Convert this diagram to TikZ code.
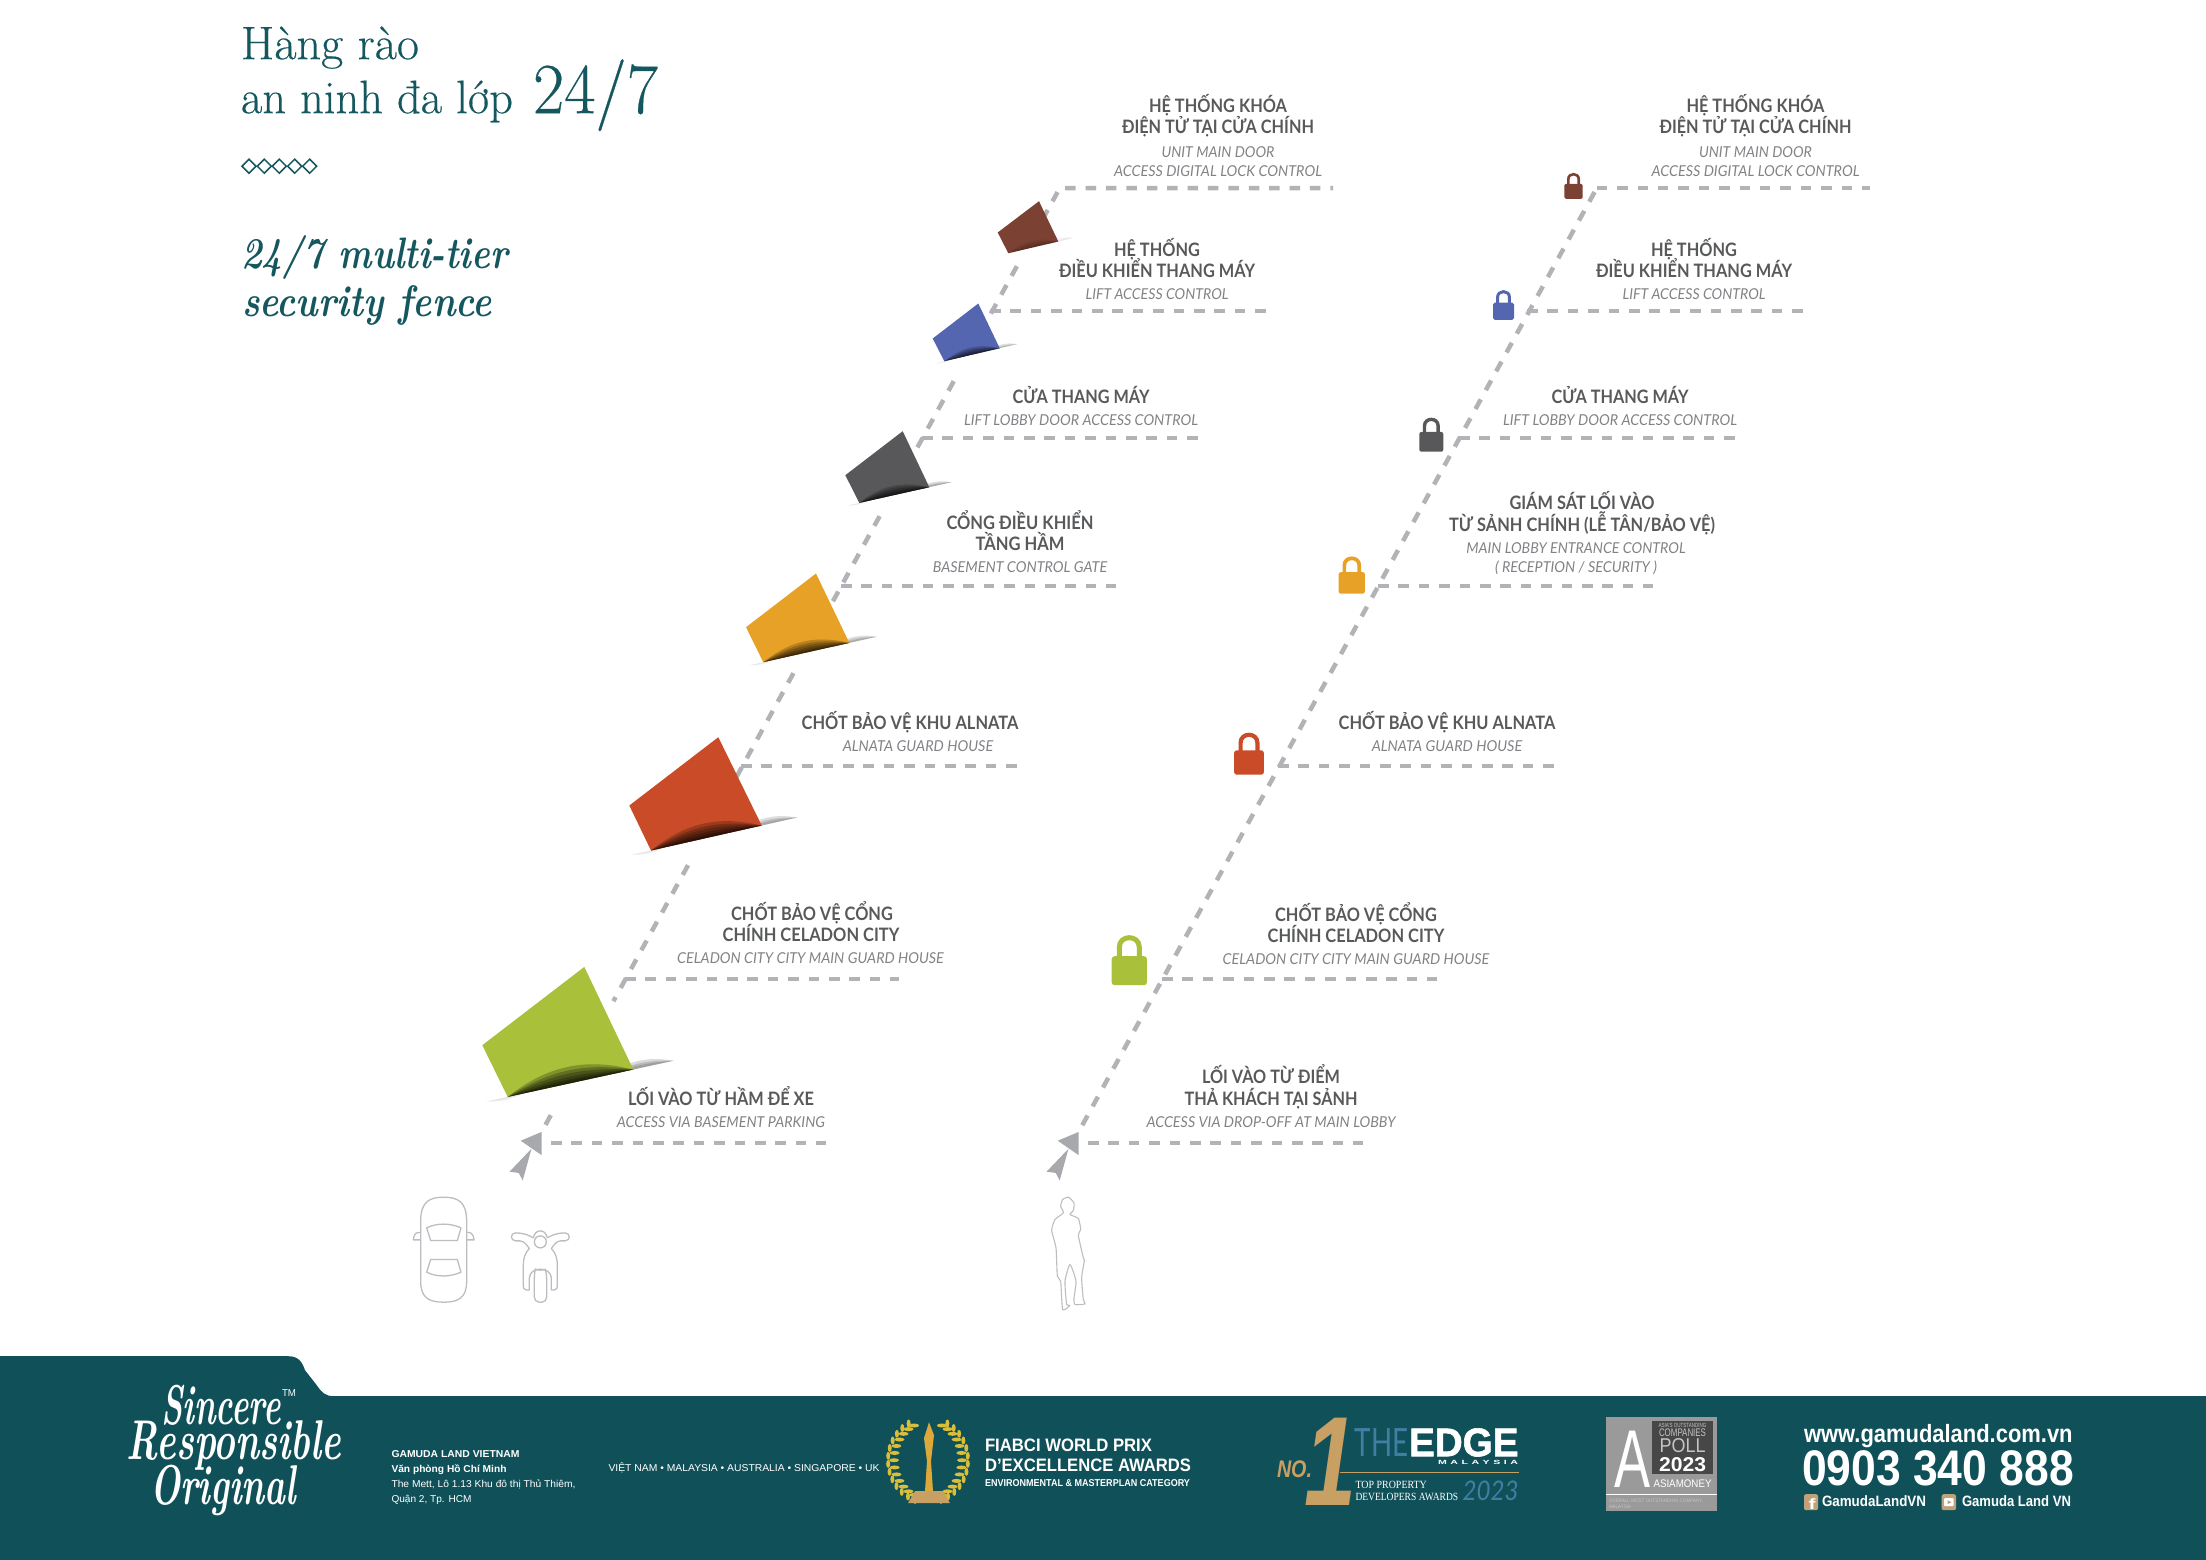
\documentclass[tikz,border=0pt]{standalone}
\usepackage{fontspec}
\usepackage{graphicx}
\usetikzlibrary{calc,shapes.geometric}
\newfontfamily\lato{Lato}
\newfontfamily\libs{Liberation Sans}
\newfontfamily\libr{Liberation Serif}
\newfontfamily\libh[UprightFont=* Bold,FakeBold=1.5]{Liberation Sans}
\newfontfamily\ttl[FakeBold=0.35]{Latin Modern Roman}
\definecolor{teal}{HTML}{105159}
\definecolor{titleteal}{HTML}{15575E}
\definecolor{labgray}{HTML}{58595B}
\definecolor{subgray}{HTML}{808285}
\definecolor{dashgray}{HTML}{B1B3B6}
\definecolor{arrowgray}{HTML}{A7A9AC}
\definecolor{icongray}{HTML}{BCBDC0}
\definecolor{cbrown}{HTML}{7B4132}
\definecolor{cblue}{HTML}{5566B0}
\definecolor{cdark}{HTML}{58585A}
\definecolor{corange}{HTML}{E6A126}
\definecolor{cred}{HTML}{C94B27}
\definecolor{cgreen}{HTML}{A8C03A}
\definecolor{gold}{HTML}{C9A063}
\definecolor{leaf}{HTML}{D8BE3A}
\definecolor{trophy}{HTML}{DDA83A}
\definecolor{edgeblue}{HTML}{3F7FA3}
\definecolor{amgray}{HTML}{9A9A9A}
\definecolor{amdark}{HTML}{474747}
\definecolor{amlight}{HTML}{C4C4C4}
\definecolor{tan}{HTML}{BFA27A}
\tikzset{
  base text/.style={anchor=base,inner sep=0pt,outer sep=0pt},
  headlab/.style={base text,text=labgray,font=\lato\bfseries\fontsize{18.5}{20}\selectfont},
  sublab/.style={base text,text=subgray,font=\lato\itshape\fontsize{15}{17}\selectfont},
  titlefont/.style={base text,anchor=base west,text=titleteal,font=\ttl\fontsize{47}{50}\selectfont},
  titlebig/.style={base text,anchor=base west,text=titleteal,font=\ttl\fontsize{72}{75}\selectfont},
  titleit/.style={base text,anchor=base west,text=titleteal,font=\bfseries\itshape\fontsize{44}{48}\selectfont},
  foot/.style={base text,anchor=base west,text=white,font=\libs\fontsize{10}{12}\selectfont},
  footb/.style={base text,anchor=base west,text=white,font=\libs\bfseries\fontsize{10}{12}\selectfont},
  scripty/.style={base text,text=white,font=\bfseries\itshape\fontsize{56}{60}\selectfont},
  dashline/.style={draw=dashgray,line width=4.5pt,dash pattern=on 10.5pt off 9.9pt},
  diagline/.style={draw=dashgray,line width=4.5pt,dash pattern=on 11pt off 10.5pt},
  icon/.style={draw=icongray,line width=1.3pt,line join=round},
}
\newcommand\fw[2]{\resizebox{#1pt}{\height}{#2}}
% name, style, x, y, width, text
\newcommand\lab[6]{\node[#2] (#1) at (#3,#4) {\fw{#5}{#6}};}
% named point on the diagonal: name, x offset, y
\newcommand\dc[3]{\coordinate (#1) at ({542+#2+(1130-#3)*0.549},#3);}
% name, colour, A, B, C, D, shadow opacity
\newcommand\fencequad[7]{%
  \coordinate (#1tl) at ($(#6)!1.17!(#5)$);
  \coordinate (#1tr) at ($(#5)!1.32!(#6)$);
  \coordinate (#1il) at ($(#5)!0.12!(#6)$);
  \coordinate (#1ir) at ($(#5)!0.8!(#6)$);
  \pgfmathsetmacro\tailop{#7*0.6}
  \pgfmathsetmacro\leftop{#7*0.25}
  \foreach \ang in {22,14,8}{\fill[black,opacity=\tailop] (#1ir) to[bend left=\ang] (#1tr) -- cycle;}
  \foreach \ang in {14,7}{\fill[black,opacity=\leftop] (#1tl) to[bend right=\ang] (#1il) -- cycle;}
  \fill[#2] (#3)--(#4)--(#5)--(#6)--cycle;
  \begin{scope}
    \clip (#3)--(#4)--(#5)--(#6)--cycle;
    \foreach \ang in {26,20,15,10,6,3}{\fill[black,opacity=#7] (#5) to[bend left=\ang] (#6) -- cycle;}
  \end{scope}
}
% colour, cx, bottom y, scale
\newcommand\lockicon[4]{%
  \begin{scope}[shift={(#2,#3)},scale=#4]
    \draw[#1,line width=#4*5pt] (-10,-27) -- (-10,-38) .. controls (-10,-50.7) and (10,-50.7) .. (10,-38) -- (10,-27);
    \fill[#1,rounded corners=#4*3pt] (-17.65,-29) rectangle (17.65,0);
  \end{scope}}
% x offset
\newcommand\arrowpair[1]{%
  \begin{scope}[shift={(#1,0)}]
    \fill[arrowgray] (541.7,1130.7) -- (520.7,1139.5) -- (541.7,1154) -- cycle;
    \fill[arrowgray] (531.5,1147.5) -- (509.5,1170.5) -- (518.7,1171.7) -- (522.7,1179.3) -- cycle;
  \end{scope}}
\begin{document}
\begin{tikzpicture}[x=1pt,y=-1pt]
\useasboundingbox (0,0) rectangle (2206,1560);
\begin{scope}[yshift=-1.2pt]
% title
\lab{t1}{titlefont}{241}{58}{178}{Hàng rào}
\lab{t2}{titlefont}{241}{112}{272}{an ninh đa lớp}
\lab{t3}{titlebig}{533}{112}{125}{24/7}
\foreach \cx in {249,264.3,279.3,294.7,309.7}{\draw[titleteal,line width=1.5pt] (\cx-7,165) -- (\cx,158) -- (\cx+7,165) -- (\cx,172) -- cycle;}
\lab{t4}{titleit}{241}{267}{267}{24/7 multi-tier}
\lab{t5}{titleit}{242}{315}{250}{security fence}
% left diagonal pieces
\dc{la1}{0}{1124}\dc{la0}{0}{1114}
\dc{lb1}{0}{1000}\dc{lb0}{0}{864}
\dc{lc1}{0}{790}\dc{lc0}{0}{672}
\dc{ld1}{0}{605}\dc{ld0}{0}{515}
\dc{le1}{0}{458}\dc{le0}{0}{380}
\dc{lf1}{0}{324}\dc{lf0}{0}{265}
\dc{lg1}{0}{218}\dc{lg0}{0}{187}
\draw[diagline] (la0) -- (la1);
\draw[diagline] (lb0) -- (lb1);
\draw[diagline] (lc0) -- (lc1);
\draw[diagline] (ld0) -- (ld1);
\draw[diagline] (le0) -- (le1);
\draw[diagline] (lf0) -- (lf1);
% branches of the left line
\coordinate (lh1e) at (1333,187);
\coordinate (lh2s) at (990,310);\coordinate (lh2e) at (1267,310);
\coordinate (lh3s) at (922,437);\coordinate (lh3e) at (1198,437);
\coordinate (lh4s) at (841,585);\coordinate (lh4e) at (1116,585);
\coordinate (lh5s) at (741,765);\coordinate (lh5e) at (1017,765);
\coordinate (lh6s) at (625,978);\coordinate (lh6e) at (899,978);
\coordinate (lh7s) at (551,1142);\coordinate (lh7e) at (826,1142);
\draw[dashline] (lg1) -- (lg0) -- (lh1e);
\foreach \n in {2,...,7}{\draw[dashline] (lh\n s) -- (lh\n e);}
% fence blocks
\fencequad{qa}{cbrown}{1039,200}{997.7,231.3}{1008.3,252}{1058.3,240.3}{0.05}
\fencequad{qb}{cblue}{978.3,302.3}{932.7,337.3}{944.3,360}{999.7,347}{0.17}
\fencequad{qc}{cdark}{902.7,430}{845.3,474}{859.3,501.7}{929.3,486}{0.2}
\fencequad{qd}{corange}{816,572.3}{746,626}{763.3,661}{849.3,641.7}{0.2}
\fencequad{qe}{cred}{718.3,736}{629.3,804.3}{651,849.3}{761.7,824.3}{0.22}
\fencequad{qf}{cgreen}{584.3,965.7}{482.3,1044}{507.7,1095.7}{633.3,1068.3}{0.24}
\arrowpair{0}
% right line
\dc{ra1}{537}{1124}\dc{ra0}{537}{187}
\coordinate (rh1e) at (1870,187);
\draw[diagline] (ra1) -- (ra0);
\draw[dashline] (ra0) -- (rh1e);
\coordinate (rh2s) at (1527,310);\coordinate (rh2e) at (1804,310);
\coordinate (rh3s) at (1459,437);\coordinate (rh3e) at (1735,437);
\coordinate (rh4s) at (1378,585);\coordinate (rh4e) at (1653,585);
\coordinate (rh5s) at (1278,765);\coordinate (rh5e) at (1554,765);
\coordinate (rh6s) at (1162,978);\coordinate (rh6e) at (1437,978);
\coordinate (rh7s) at (1088,1142);\coordinate (rh7e) at (1363,1142);
\foreach \n in {2,...,7}{\draw[dashline] (rh\n s) -- (rh\n e);}
\arrowpair{537}
% locks
\lockicon{cbrown}{1573.5}{197.7}{0.52}
\lockicon{cblue}{1503.5}{318.7}{0.595}
\lockicon{cdark}{1431.3}{450.5}{0.68}
\lockicon{corange}{1351.8}{592.5}{0.745}
\lockicon{cred}{1249}{773.5}{0.84}
\lockicon{cgreen}{1129.3}{984}{1}
% left labels
\lab{a1}{headlab}{1218}{111.7}{138}{HỆ THỐNG KHÓA}
\lab{a2}{headlab}{1218}{132.7}{192}{ĐIỆN TỬ TẠI CỬA CHÍNH}
\lab{a3}{sublab}{1218}{156}{113}{UNIT MAIN DOOR}
\lab{a4}{sublab}{1218}{175}{208}{ACCESS DIGITAL LOCK CONTROL}
\lab{b1}{headlab}{1157}{255}{86}{HỆ THỐNG}
\lab{b2}{headlab}{1157}{276.7}{196}{ĐIỀU KHIỂN THANG MÁY}
\lab{b3}{sublab}{1157}{298}{143}{LIFT ACCESS CONTROL}
\lab{c1}{headlab}{1081}{402.7}{137}{CỬA THANG MÁY}
\lab{c2}{sublab}{1081}{424}{234}{LIFT LOBBY DOOR ACCESS CONTROL}
\lab{d1}{headlab}{1020}{528}{147}{CỔNG ĐIỀU KHIỂN}
\lab{d2}{headlab}{1020}{549.5}{89}{TẦNG HẦM}
\lab{d3}{sublab}{1020}{571}{174.5}{BASEMENT CONTROL GATE}
\lab{e1}{headlab}{910}{728}{216.7}{CHỐT BẢO VỆ KHU ALNATA}
\lab{e2}{sublab}{918}{750}{150.5}{ALNATA GUARD HOUSE}
\lab{f1}{headlab}{812}{919.3}{161.7}{CHỐT BẢO VỆ CỔNG}
\lab{f2}{headlab}{811}{940.7}{176.7}{CHÍNH CELADON CITY}
\lab{f3}{sublab}{810.5}{962.7}{266.7}{CELADON CITY CITY MAIN GUARD HOUSE}
\lab{g1}{headlab}{721}{1104}{186}{LỐI VÀO TỪ HẦM ĐỂ XE}
\lab{g2}{sublab}{721}{1126}{208.3}{ACCESS VIA BASEMENT PARKING}
% right labels
\lab{ra1t}{headlab}{1755.5}{111.7}{138}{HỆ THỐNG KHÓA}
\lab{ra2t}{headlab}{1755.5}{132.7}{192}{ĐIỆN TỬ TẠI CỬA CHÍNH}
\lab{ra3t}{sublab}{1755.5}{156}{113}{UNIT MAIN DOOR}
\lab{ra4t}{sublab}{1755.5}{175}{208}{ACCESS DIGITAL LOCK CONTROL}
\lab{rb1}{headlab}{1694}{255}{86}{HỆ THỐNG}
\lab{rb2}{headlab}{1694}{276.7}{196}{ĐIỀU KHIỂN THANG MÁY}
\lab{rb3}{sublab}{1694}{298}{143}{LIFT ACCESS CONTROL}
\lab{rc1}{headlab}{1620}{402.7}{137}{CỬA THANG MÁY}
\lab{rc2}{sublab}{1620}{424}{234}{LIFT LOBBY DOOR ACCESS CONTROL}
\lab{rd1}{headlab}{1582}{508}{145}{GIÁM SÁT LỐI VÀO}
\lab{rd2}{headlab}{1582}{530}{266}{TỪ SẢNH CHÍNH (LỄ TÂN/BẢO VỆ)}
\lab{rd3}{sublab}{1576}{552.5}{219.5}{MAIN LOBBY ENTRANCE CONTROL}
\lab{rd4}{sublab}{1576}{571.5}{162}{( RECEPTION / SECURITY )}
\lab{re1}{headlab}{1447}{728}{216.7}{CHỐT BẢO VỆ KHU ALNATA}
\lab{re2}{sublab}{1447}{750}{150.5}{ALNATA GUARD HOUSE}
\lab{rf1}{headlab}{1356}{920}{161.7}{CHỐT BẢO VỆ CỔNG}
\lab{rf2}{headlab}{1356}{941}{176.7}{CHÍNH CELADON CITY}
\lab{rf3}{sublab}{1356}{963}{266.7}{CELADON CITY CITY MAIN GUARD HOUSE}
\lab{rg1}{headlab}{1271}{1082}{138}{LỐI VÀO TỪ ĐIỂM}
\lab{rg2}{headlab}{1271}{1104}{173}{THẢ KHÁCH TẠI SẢNH}
\lab{rg3}{sublab}{1271}{1126}{249}{ACCESS VIA DROP-OFF AT MAIN LOBBY}
% car and motorbike
\begin{scope}[shift={(400,900)},x=0.33333pt,y=-0.33333pt]
  \draw[icon] (62,960) .. controls (62,900) and (90,888) .. (131,888) .. controls (172,888) and (200,900) .. (200,960) -- (200,1140) .. controls (200,1190) and (175,1203) .. (131,1203) .. controls (87,1203) and (62,1190) .. (62,1140) -- cycle;
  \draw[icon] (62,994) -- (54,994) .. controls (46,994) and (40,1006) .. (40,1016) -- (62,1016);
  \draw[icon] (200,994) -- (208,994) .. controls (216,994) and (222,1006) .. (222,1016) -- (200,1016);
  \draw[icon] (80,980) .. controls (110,965) and (150,965) .. (183,980) -- (172,1018) -- (92,1018) -- cycle;
  \draw[icon] (92,1075) -- (172,1075) -- (183,1113) .. controls (150,1128) and (110,1128) .. (80,1113) -- cycle;
  \draw[icon] (421,1022) circle[radius=18];
  \draw[icon] (400,1010) .. controls (405,982) and (437,982) .. (442,1010);
  \draw[icon] (400,1010) .. controls (385,1000) and (365,995) .. (347,995) .. controls (330,995) and (330,1019) .. (347,1019) -- (360,1019) .. controls (372,1020) and (380,1030) .. (388,1042) .. controls (375,1055) and (370,1072) .. (370,1090) -- (370,1155) .. controls (370,1165) and (378,1168) .. (388,1166) -- (388,1130) .. controls (390,1095) and (452,1095) .. (454,1130) -- (454,1166) .. controls (464,1168) and (472,1165) .. (472,1155) -- (472,1090) .. controls (472,1072) and (467,1055) .. (454,1042) .. controls (462,1030) and (470,1020) .. (482,1019) -- (495,1019) .. controls (512,1019) and (512,995) .. (495,995) .. controls (477,995) and (457,1000) .. (442,1010);
  \draw[icon,rounded corners=5pt] (403,1118) .. controls (405,1108) and (437,1108) .. (440,1118) -- (440,1203) -- (403,1203) -- cycle;
\end{scope}
% walking figure
\begin{scope}[shift={(1020,880)},x=0.33333pt,y=-0.33333pt]
  \draw[icon,line width=1.1pt] plot[smooth cycle,tension=0.35] coordinates {(145,948) (162,965) (160,988) (150,1000) (175,1012) (182,1045) (175,1062) (190,1130) (193,1138) (185,1190) (190,1255) (195,1268) (165,1270) (162,1250) (168,1200) (150,1150) (135,1200) (140,1270) (150,1272) (128,1285) (122,1200) (112,1185) (108,1100) (95,1048) (105,1015) (130,995) (122,975) (128,955)};
\end{scope}
% footer band
\fill[teal] (0,1355) -- (288,1355) .. controls (298,1355) and (302,1360) .. (305,1369) -- (316,1383) .. controls (322,1392) and (326,1395) .. (334,1395) -- (2206,1395) -- (2206,1562) -- (0,1562) -- cycle;
\lab{s1}{scripty}{221}{1423}{120}{Sincere}
\lab{s2}{scripty}{234}{1458}{214}{Responsible}
\lab{s3}{scripty}{223}{1503}{146}{Original}
\lab{s4}{foot}{282}{1395}{14}{TM}
\lab{ad1}{footb}{391.5}{1456.7}{128}{GAMUDA LAND VIETNAM}
\lab{ad2}{footb}{391.5}{1471.7}{115}{Văn phòng Hồ Chí Minh}
\lab{ad3}{foot}{391.5}{1486.7}{184}{The Mett, Lô 1.13 Khu đô thị Thủ Thiêm,}
\lab{ad4}{foot}{391.5}{1501.7}{80}{Quận 2, Tp. HCM}
\lab{ct}{foot}{608.5}{1470.7}{271}{VIỆT NAM • MALAYSIA  • AUSTRALIA • SINGAPORE • UK}
% wreath and trophy
\begin{scope}[shift={(928,1459)}]
  \foreach \a in {-66,-55,...,66}{
    \fill[leaf] ({34*cos(\a)},{38*sin(\a)}) ellipse[x radius=5,y radius=2];
    \fill[leaf] ({40*cos(\a+5)},{42*sin(\a+5)}) ellipse[x radius=2,y radius=4];
    \fill[leaf] ({-34*cos(\a)},{38*sin(\a)}) ellipse[x radius=5,y radius=2];
    \fill[leaf] ({-40*cos(\a+5)},{42*sin(\a+5)}) ellipse[x radius=2,y radius=4];
  }
\end{scope}
\fill[trophy] (929,1421) -- (934,1434) -- (931,1460) -- (933,1490) -- (925,1490) -- (927,1460) -- (924,1437) -- cycle;
\fill[gold] (915,1490) -- (943,1490) -- (950,1502) -- (908,1502) -- cycle;
\lab{fi1}{footb,font=\libs\bfseries\fontsize{18}{20}\selectfont}{985}{1450}{167}{FIABCI WORLD PRIX}
\lab{fi2}{footb,font=\libs\bfseries\fontsize{18}{20}\selectfont}{985}{1470}{206}{D’EXCELLENCE AWARDS}
\lab{fi3}{footb}{985}{1485}{205}{ENVIRONMENTAL \& MASTERPLAN CATEGORY}
% The Edge
\lab{no}{base text,anchor=base west,text=gold,font=\libs\bfseries\itshape\fontsize{24}{26}\selectfont}{1277}{1476}{35}{NO.}
\lab{one}{base text,anchor=base west,text=gold,font=\libs\bfseries\itshape\fontsize{127}{130}\selectfont}{1304}{1504}{52}{1}
\lab{the}{base text,anchor=base west,text=edgeblue,font=\lato\fontsize{39}{41}\selectfont}{1354.6}{1455}{53.6}{THE}
\lab{edge}{base text,anchor=base west,text=white,font=\libh\fontsize{40}{42}\selectfont}{1409}{1455}{109.5}{EDGE}
\lab{mal}{footb,font=\libs\bfseries\fontsize{6}{7}\selectfont}{1438}{1463.5}{80}{M\,\,A\,\,L\,\,A\,\,Y\,\,S\,\,I\,\,A}
\coordinate (gl0) at (1340,1471);\coordinate (gl1) at (1518.5,1471);
\draw[gold,line width=1.3pt] (gl0) -- (gl1);
\lab{top}{footb,font=\libr\fontsize{11}{12}\selectfont}{1355.5}{1487.7}{71.4}{TOP PROPERTY}
\lab{dev}{footb,font=\libr\fontsize{11}{12}\selectfont}{1355.5}{1499}{102.7}{DEVELOPERS AWARDS}
\lab{y23}{base text,anchor=base west,text=edgeblue,font=\lato\itshape\fontsize{27}{29}\selectfont}{1462.7}{1499}{56}{2023}
% Asiamoney
\fill[amgray] (1606,1415.7) rectangle (1716.7,1510);
\fill[amdark] (1651.8,1419.3) rectangle (1713.3,1472.7);
\lab{am1}{base text,text=amlight,font=\libs\fontsize{6}{7}\selectfont}{1682.5}{1426.5}{48}{ASIA’S OUTSTANDING}
\lab{am2}{base text,text=amlight,font=\libs\fontsize{11}{12}\selectfont}{1682.5}{1435}{47}{COMPANIES}
\lab{am3}{base text,text=amlight,font=\libs\fontsize{20}{22}\selectfont}{1682.5}{1451}{46}{POLL}
\lab{am4}{base text,text=white,font=\libs\bfseries\fontsize{20}{22}\selectfont}{1682.5}{1470}{47}{2023}
\lab{am5}{base text,anchor=base,text=white,font=\libs\fontsize{82}{84}\selectfont}{1632}{1486.7}{36}{A}
\lab{am6}{base text,anchor=base west,text=white,font=\libs\fontsize{11}{12}\selectfont}{1653.5}{1486}{58}{ASIAMONEY}
\coordinate (am0) at (1606,1493);\coordinate (am9) at (1716.7,1493);
\draw[white,line width=1pt] (am0) -- (am9);
\lab{am7}{base text,anchor=base west,text=amlight,font=\libs\fontsize{5}{6}\selectfont}{1609}{1501}{94}{OVERALL MOST OUTSTANDING COMPANY,}
\lab{am8}{base text,anchor=base west,text=amlight,font=\libs\fontsize{5}{6}\selectfont}{1609}{1507}{22}{MALAYSIA}
% contact
\lab{web}{footb,font=\libs\bfseries\fontsize{25}{27}\selectfont}{1804}{1441}{268.6}{www.gamudaland.com.vn}
\lab{tel}{footb,font=\libs\bfseries\fontsize{50}{52}\selectfont}{1802}{1484}{272}{0903 340 888}
\fill[tan,rounded corners=2pt] (1804,1493) rectangle (1818,1509);
\lab{ficon}{base text,text=white,font=\libs\bfseries\fontsize{15}{16}\selectfont}{1812}{1508}{7}{f}
\lab{fbt}{footb,font=\libs\bfseries\fontsize{15}{16}\selectfont}{1822}{1505}{104}{GamudaLandVN}
\fill[tan,rounded corners=2pt] (1941.7,1493) rectangle (1956,1509);
\fill[white,rounded corners=1pt] (1944,1497) rectangle (1953.7,1505);
\fill[tan] (1947.5,1499) -- (1951.5,1501) -- (1947.5,1503) -- cycle;
\lab{ytt}{footb,font=\libs\bfseries\fontsize{15}{16}\selectfont}{1962}{1505}{109}{Gamuda Land VN}
\end{scope}
\end{tikzpicture}
\end{document}
